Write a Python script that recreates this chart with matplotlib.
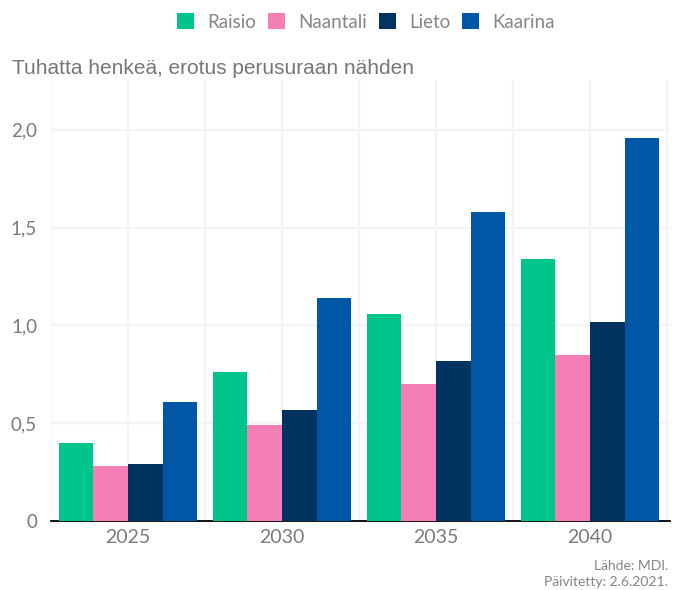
import matplotlib
matplotlib.use("Agg")
import matplotlib.pyplot as plt
import numpy as np
from matplotlib.patches import Patch

years = ["2025", "2030", "2035", "2040"]
series_names = ["Raisio", "Naantali", "Lieto", "Kaarina"]
raisio = [0.40, 0.76, 1.06, 1.34]
naantali = [0.28, 0.49, 0.70, 0.85]
lieto = [0.29, 0.57, 0.82, 1.02]
kaarina = [0.61, 1.14, 1.58, 1.96]
colors = ["#00c58a", "#f47fb6", "#00335f", "#0057a5"]
yticks = [0, 0.5, 1.0, 1.5, 2.0]
ytick_labels = ["0", "0,5", "1,0", "1,5", "2,0"]

plt.rcParams["font.family"] = ["Lato", "DejaVu Sans"]
fig = plt.figure(figsize=(6.76, 5.90), dpi=100)
W, H = 676, 590
ax = fig.add_axes([51 / W, 1 - 521 / H, (670 - 51) / W, (521 - 80) / H])

values = [raisio, naantali, lieto, kaarina]
x = np.arange(len(years))
bw = 0.225
for i, (vals, c) in enumerate(zip(values, colors)):
    ax.bar(x + (i - 1.5) * bw, vals, width=bw, color=c, zorder=3, linewidth=0)

ax.set_xlim(-0.485, 3.52)
ax.set_ylim(0, 2.255)
ax.set_yticks(yticks)
ax.set_yticklabels(ytick_labels)
ax.set_xticks(x)
ax.set_xticklabels(years)
ax.set_xticks(np.arange(-0.5, 4, 1.0), minor=True)
ax.grid(True, which="major", color="#f4f4f4", linewidth=1.6, zorder=0)
ax.grid(True, which="minor", axis="x", color="#f4f4f4", linewidth=1.6, zorder=0)
for s in ["top", "right", "left"]:
    ax.spines[s].set_visible(False)
ax.spines["bottom"].set_color("black")
ax.spines["bottom"].set_linewidth(1.3)
ax.tick_params(axis="both", which="both", length=0, colors="#7a7a7a")
ax.tick_params(axis="y", labelsize=13.5, pad=10)
ax.tick_params(axis="x", labelsize=14, pad=6)

fig.text(12 / W, 1 - 68 / H, "Tuhatta henkeä, erotus perusuraan nähden",
         fontsize=15, color="#767676", family="Liberation Sans", va="center", ha="left")

handles = [Patch(facecolor=c, edgecolor="none") for c in colors]
leg = fig.legend(handles, series_names, loc="center", bbox_to_anchor=(366 / W, 1 - 22 / H),
                 ncol=4, frameon=False, fontsize=13.5, handlelength=0.9, handleheight=0.9,
                 handletextpad=0.7, columnspacing=0.65)
for t in leg.get_texts():
    t.set_color("#858585")

fig.text(668 / W, 1 - 566 / H, "Lähde: MDI.", fontsize=10, color="#858585",
         ha="right", va="center")
fig.text(668 / W, 1 - 582 / H, "Päivitetty: 2.6.2021.", fontsize=10, color="#858585",
         ha="right", va="center")

fig.savefig("out.png", dpi=100)
